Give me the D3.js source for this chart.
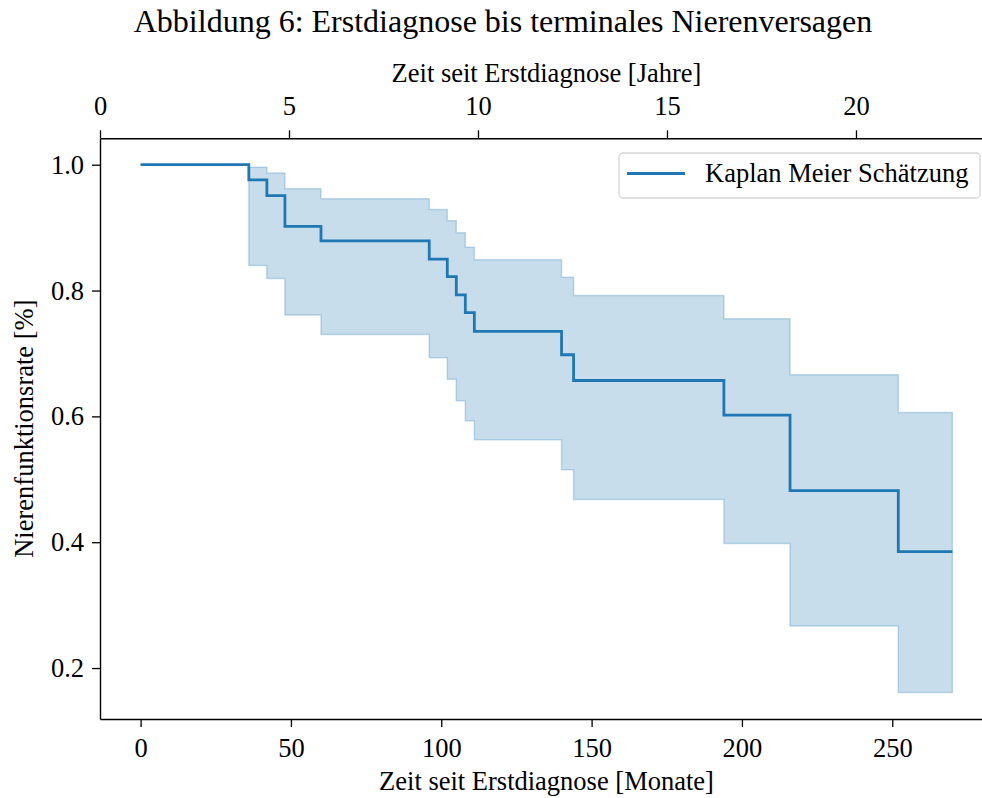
<!DOCTYPE html>
<html>
<head>
<meta charset="utf-8">
<script src="https://cdn.jsdelivr.net/npm/d3@7"></script>
<style>
  body { margin: 0; background: #fff; }
  text { font-family: "Liberation Serif", "Times New Roman", serif; fill: #000; }
</style>
</head>
<body>
<svg id="chart" width="982" height="798"></svg>
<script>
// Kaplan Meier estimate (months since first diagnosis)
const times    = [0, 36, 42, 48, 60, 96, 102, 105, 108, 111, 140, 144, 194, 216, 252, 270]
const survival = [1.0, 0.976, 0.951, 0.902, 0.879, 0.850, 0.822, 0.793, 0.765, 0.735, 0.698, 0.657, 0.602, 0.482, 0.385, 0.385]
const ciUpper  = [1.0, 0.996, 0.987, 0.962, 0.946, 0.929, 0.911, 0.892, 0.869, 0.849, 0.821, 0.792, 0.755, 0.666, 0.606, 0.606]
const ciLower  = [1.0, 0.840, 0.819, 0.761, 0.730, 0.693, 0.659, 0.625, 0.593, 0.563, 0.515, 0.468, 0.398, 0.267, 0.161, 0.161]

const monthTicks = [0, 50, 100, 150, 200, 250]
const yearTicks = [0, 5, 10, 15, 20]
const yTicks = [0.2, 0.4, 0.6, 0.8, 1.0]

const BLUE = "#1f77b4"
const PLOT = {left: 100, right: 993, top: 138.3, bottom: 719}
const FONT_SIZE = 26.5

const svg = d3.select("#chart")

const rows = times.map((t, i) => ({t: t, s: survival[i], lo: ciLower[i], hi: ciUpper[i]}))

// bottom axis in months, top axis in years (same span)
const xScale = d3.scaleLinear()
  .domain([-13.5, 283.5])
  .range([PLOT.left, PLOT.right])

const xYears = d3.scaleLinear()
  .domain([0, 283.5 / 12])
  .range([PLOT.left, PLOT.right])

const yScale = d3.scaleLinear()
  .domain([0.119, 1.042])
  .range([PLOT.bottom, PLOT.top])

// confidence band
svg.append("path")
  .datum(rows)
  .attr("d", d3.area()
    .curve(d3.curveStepAfter)
    .x(d => xScale(d.t))
    .y0(d => yScale(d.lo))
    .y1(d => yScale(d.hi)))
  .attr("fill", BLUE)
  .attr("fill-opacity", 0.25)
  .attr("stroke", BLUE)
  .attr("stroke-opacity", 0.25)
  .attr("stroke-width", 1.5)

// survival curve
svg.append("path")
  .datum(rows)
  .attr("d", d3.line()
    .curve(d3.curveStepAfter)
    .x(d => xScale(d.t))
    .y(d => yScale(d.s)))
  .attr("fill", "none")
  .attr("stroke", BLUE)
  .attr("stroke-width", 2.8)

// axes
let bottomAxis = svg.append("g")
  .attr("transform", `translate(0, ${PLOT.bottom})`)
  .call(d3.axisBottom(xScale).tickValues(monthTicks).tickSize(8).tickSizeOuter(0).tickPadding(11))

let topAxis = svg.append("g")
  .attr("transform", `translate(0, ${PLOT.top})`)
  .call(d3.axisTop(xYears).tickValues(yearTicks).tickSize(8).tickSizeOuter(0).tickPadding(15))

let leftAxis = svg.append("g")
  .attr("transform", `translate(${PLOT.left}, 0)`)
  .call(d3.axisLeft(yScale).tickValues(yTicks).tickFormat(d3.format(".1f")).tickSize(8).tickSizeOuter(0).tickPadding(8))

;[bottomAxis, topAxis, leftAxis].forEach(g => {
  g.selectAll("path.domain").attr("stroke", "#000").attr("stroke-width", 1.4)
  g.selectAll(".tick line").attr("stroke", "#000").attr("stroke-width", 1.3)
  g.selectAll(".tick text")
    .attr("font-family", "Liberation Serif, serif")
    .attr("font-size", FONT_SIZE)
    .attr("fill", "#000")
})

// titles
svg.append("text")
  .attr("x", 503)
  .attr("y", 32)
  .attr("text-anchor", "middle")
  .attr("font-size", 32)
  .text("Abbildung 6: Erstdiagnose bis terminales Nierenversagen")

svg.append("text")
  .attr("x", (PLOT.left + PLOT.right) / 2)
  .attr("y", 82)
  .attr("text-anchor", "middle")
  .attr("font-size", FONT_SIZE)
  .text("Zeit seit Erstdiagnose [Jahre]")

svg.append("text")
  .attr("x", (PLOT.left + PLOT.right) / 2)
  .attr("y", 790)
  .attr("text-anchor", "middle")
  .attr("font-size", FONT_SIZE)
  .text("Zeit seit Erstdiagnose [Monate]")

svg.append("text")
  .attr("transform", `translate(33, ${(PLOT.top + PLOT.bottom) / 2}) rotate(-90)`)
  .attr("text-anchor", "middle")
  .attr("font-size", FONT_SIZE)
  .text("Nierenfunktionsrate [%]")

// legend
let legend = svg.append("g")
legend.append("rect")
  .attr("x", 619).attr("y", 153)
  .attr("width", 361).attr("height", 45)
  .attr("rx", 4)
  .attr("fill", "#fff").attr("fill-opacity", 0.8)
  .attr("stroke", "#d6d6d6").attr("stroke-width", 1.3)
legend.append("line")
  .attr("x1", 627).attr("x2", 685)
  .attr("y1", 173.5).attr("y2", 173.5)
  .attr("stroke", BLUE).attr("stroke-width", 2.8)
legend.append("text")
  .attr("x", 705).attr("y", 182)
  .attr("font-size", FONT_SIZE)
  .text("Kaplan Meier Schätzung")
</script>
</body>
</html>
